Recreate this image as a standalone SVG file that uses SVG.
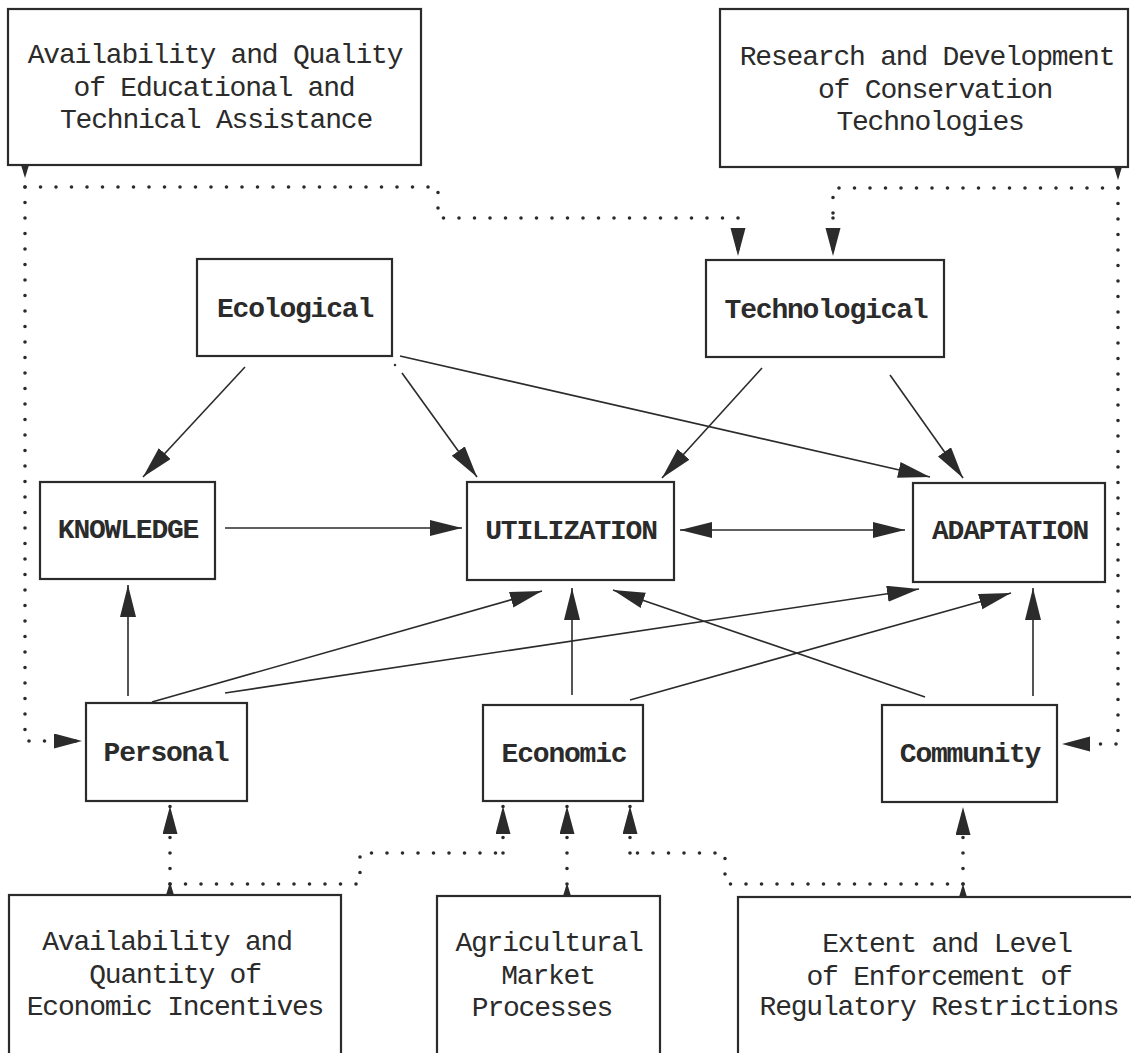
<svg xmlns="http://www.w3.org/2000/svg" width="1131" height="1053" viewBox="0 0 1131 1053">
<style>
.box{fill:#fff;stroke:#2b2b2b;stroke-width:2.2}
.t{font-family:"Liberation Mono","Courier New",monospace;font-size:28px;letter-spacing:-1.2px;fill:#2b2b2b;text-anchor:middle}
.n{font-weight:bold}
.ln{fill:none;stroke:#2b2b2b;stroke-width:1.6}
.dot{fill:none;stroke:#2b2b2b;stroke-width:3.6;stroke-linecap:round;stroke-dasharray:0 15.5}
.tail{fill:#2b2b2b;stroke:none}
</style>
<defs>
<marker id="ah" markerUnits="userSpaceOnUse" markerWidth="34" markerHeight="18" refX="32" refY="8" orient="auto-start-reverse" viewBox="0 0 34 18">
<path d="M0,0 L32,8 L0,16 Z" fill="#2b2b2b"/>
</marker>
<marker id="dh" markerUnits="userSpaceOnUse" markerWidth="30" markerHeight="16" refX="28" refY="7.5" orient="auto" viewBox="0 0 30 16">
<path d="M0,0 L28,7.5 L0,15 Z" fill="#2b2b2b"/>
</marker>
</defs>
<rect width="1131" height="1053" fill="#fff"/>

<g id="edu">
<rect class="box" x="8" y="9" width="413" height="156"/>
<text class="t" x="215" y="63">Availability and Quality</text>
<text class="t" x="214" y="96">of Educational and</text>
<text class="t" x="216" y="128">Technical Assistance</text>
</g>
<g id="research">
<rect class="box" x="720" y="9" width="408" height="158"/>
<text class="t" x="927" y="65">Research and Development</text>
<text class="t" x="935" y="98">of Conservation</text>
<text class="t" x="930" y="130">Technologies</text>
</g>
<g id="ecological">
<rect class="box" x="197" y="259" width="195" height="97"/>
<text class="t n" x="295" y="317">Ecological</text>
</g>
<g id="technological">
<rect class="box" x="706" y="260" width="238" height="97"/>
<text class="t n" x="826" y="318">Technological</text>
</g>
<g id="knowledge">
<rect class="box" x="40" y="482" width="175" height="97"/>
<text class="t n" x="128" y="538">KNOWLEDGE</text>
</g>
<g id="utilization">
<rect class="box" x="467" y="482" width="207" height="98"/>
<text class="t n" x="571" y="539">UTILIZATION</text>
</g>
<g id="adaptation">
<rect class="box" x="913" y="483" width="192" height="99"/>
<text class="t n" x="1010" y="539">ADAPTATION</text>
</g>
<g id="personal">
<rect class="box" x="86" y="703" width="161" height="98"/>
<text class="t n" x="166" y="761">Personal</text>
</g>
<g id="economic">
<rect class="box" x="483" y="705" width="160" height="96"/>
<text class="t n" x="564" y="762">Economic</text>
</g>
<g id="community">
<rect class="box" x="882" y="705" width="175" height="97"/>
<text class="t n" x="970" y="762">Community</text>
</g>
<g id="incentives">
<rect class="box" x="9" y="895" width="332" height="170"/>
<text class="t" x="167" y="950">Availability and</text>
<text class="t" x="175" y="983">Quantity of</text>
<text class="t" x="175" y="1015">Economic Incentives</text>
</g>
<g id="market">
<rect class="box" x="437" y="896" width="223" height="170"/>
<text class="t" x="549" y="951">Agricultural</text>
<text class="t" x="548" y="984">Market</text>
<text class="t" x="542" y="1016">Processes</text>
</g>
<g id="regulatory">
<rect class="box" x="738" y="897" width="400" height="170"/>
<text class="t" x="947" y="952">Extent and Level</text>
<text class="t" x="939" y="985">of Enforcement of</text>
<text class="t" x="939" y="1015">Regulatory Restrictions</text>
</g>

<g id="connectors">
<!-- solid -->
<path class="ln" marker-end="url(#ah)" d="M245,367 L143,477"/>
<circle cx="395" cy="365" r="1.2" fill="#2b2b2b"/>
<path class="ln" marker-end="url(#ah)" d="M402,373 L477,477"/>
<path class="ln" marker-end="url(#ah)" d="M400,356 L930,477"/>
<path class="ln" marker-end="url(#ah)" d="M762,368 L662,478"/>
<path class="ln" marker-end="url(#ah)" d="M890,375 L963,478"/>
<path class="ln" marker-end="url(#ah)" d="M225,528 L462,528"/>
<path class="ln" marker-start="url(#ah)" marker-end="url(#ah)" d="M680,530 L905,530"/>
<path class="ln" marker-end="url(#ah)" d="M128,696 L128,585"/>
<path class="ln" marker-end="url(#ah)" d="M152,702 L542,591"/>
<path class="ln" marker-end="url(#ah)" d="M225,693 L919,589"/>
<path class="ln" marker-end="url(#ah)" d="M572,695 L572,588"/>
<path class="ln" marker-end="url(#ah)" d="M630,700 L1011,593"/>
<path class="ln" marker-end="url(#ah)" d="M925,697 L613,590"/>
<path class="ln" marker-end="url(#ah)" d="M1033,696 L1033,588"/>
<!-- dotted from top-left box -->
<path class="tail" d="M21,165 L29,165 L25,178 Z"/>
<path class="dot" d="M25,187 L438,187 L438,218 L738,218"/>
<path class="dot" marker-end="url(#dh)" d="M738,218 L738,256"/>
<path class="dot" marker-end="url(#dh)" d="M25,187 L25,741 L82,741"/>
<!-- dotted from top-right box -->
<path class="tail" d="M1114,167 L1122,167 L1118,180 Z"/>
<path class="dot" d="M1118,188 L833,188 L833,218"/>
<path class="dot" marker-end="url(#dh)" d="M833,218 L833,256"/>
<path class="dot" marker-end="url(#dh)" d="M1118,188 L1118,744 L1062,744"/>
<!-- dotted from bottom-left box -->
<path class="tail" d="M166,895 L174,895 L170,882 Z"/>
<path class="dot" marker-end="url(#dh)" d="M170,884 L170,806"/>
<path class="dot" d="M170,884 L360,884 L360,853 L503,853"/>
<path class="dot" marker-end="url(#dh)" d="M503,853 L503,806"/>
<!-- dotted from bottom-middle box -->
<path class="tail" d="M563,896 L571,896 L567,883 Z"/>
<path class="dot" marker-end="url(#dh)" d="M567,884 L567,806"/>
<!-- dotted from bottom-right box -->
<path class="tail" d="M959,897 L967,897 L963,884 Z"/>
<path class="dot" marker-end="url(#dh)" d="M963,884 L963,807"/>
<path class="dot" d="M963,884 L725,884 L725,853 L630,853"/>
<path class="dot" marker-end="url(#dh)" d="M630,853 L630,806"/>
</g>
</svg>
